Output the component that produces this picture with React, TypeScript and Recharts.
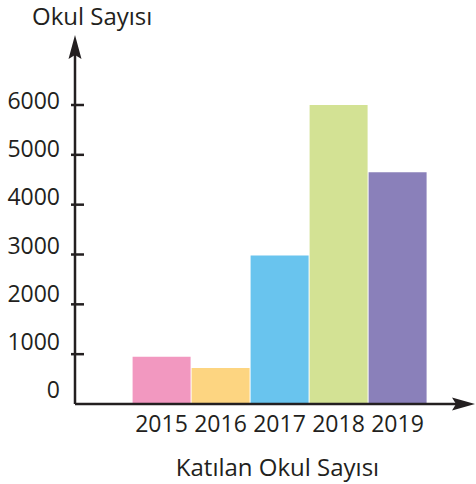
import React from 'react';
import { BarChart, Bar, XAxis, YAxis, Cell } from 'recharts';

const YEARS = ['2015', '2016', '2017', '2018', '2019'];
const SCHOOLS = [950, 720, 2980, 6000, 4650];
const COLORS = ['#F298C0', '#FDD581', '#69C4EE', '#D3E294', '#8A80BA'];
const Y_TICKS = [0, 1000, 2000, 3000, 4000, 5000, 6000];

const INK = '#231F20';
const FONT = '"Open Sans", "Noto Sans", sans-serif';

const data = YEARS.map((year, i) => ({ year, count: SCHOOLS[i] }));

// y tick: short mark crossing the axis, label left of it and a bit higher (no mark at 0)
function YTick({ x, y, payload }: any) {
  const v = payload.value;
  const lift = 5 + 10 * (1 - v / 6000);
  return (
    <g>
      {v !== 0 && <line x1={x - 4} x2={x + 9} y1={y} y2={y} stroke={INK} strokeWidth={2.5} />}
      <text
        x={x - 15}
        y={y - lift}
        textAnchor="end"
        dominantBaseline="central"
        fill={INK}
        fontSize={23}
        fontFamily={FONT}
      >
        {v}
      </text>
    </g>
  );
}

export default function App() {
  return (
    <div style={{ position: 'absolute', left: 0, top: 0, width: 476, height: 484, background: '#fff' }}>
      <BarChart
        width={476}
        height={484}
        data={data}
        margin={{ top: 105, right: 18, bottom: 0, left: 0 }}
        barCategoryGap={0.6}
      >
        <XAxis
          dataKey="year"
          height={80}
          padding={{ left: 57, right: 31 }}
          axisLine={{ stroke: INK, strokeWidth: 2.5 }}
          tickLine={false}
          tickSize={0}
          tickMargin={12}
          tick={{ fill: INK, fontSize: 23, fontFamily: FONT }}
          interval={0}
        />
        <YAxis
          width={75}
          domain={[0, 6000]}
          ticks={Y_TICKS}
          interval={0}
          axisLine={{ stroke: INK, strokeWidth: 2.5 }}
          tickLine={false}
          tickSize={0}
          tickMargin={0}
          tick={<YTick />}
        />
        <Bar dataKey="count" isAnimationActive={false}>
          {data.map((d, i) => (
            <Cell key={d.year} fill={COLORS[i]} />
          ))}
        </Bar>
      </BarChart>
      <svg
        width={476}
        height={484}
        style={{ position: 'absolute', left: 0, top: 0, pointerEvents: 'none' }}
      >
        <line x1={75} x2={75} y1={50} y2={106} stroke={INK} strokeWidth={2.5} />
        <polygon points="75,35 68.5,59 75,55 81.5,59" fill={INK} />
        <polygon points="475,404 452,397.5 456,404 452,410.5" fill={INK} />
        <text x={32} y={25} fill={INK} fontSize={24} fontFamily={FONT}>
          Okul Sayısı
        </text>
        <text x={277.5} y={476} textAnchor="middle" fill={INK} fontSize={24} fontFamily={FONT}>
          Katılan Okul Sayısı
        </text>
      </svg>
    </div>
  );
}
